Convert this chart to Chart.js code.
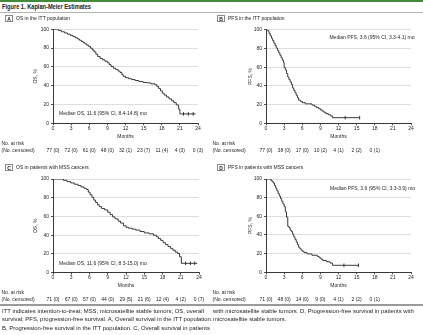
<!DOCTYPE html>
<html><head><meta charset="utf-8">
<script src="https://cdn.jsdelivr.net/npm/chart.js@4.4.1/dist/chart.umd.min.js"></script>
<style>
html,body{margin:0;padding:0;background:#fff;}
#fig{position:relative;width:423px;height:335px;overflow:hidden;font-family:"Liberation Sans",Arial,sans-serif;color:#222;}
.abs{position:absolute;}
canvas{position:absolute;}
.plab{position:absolute;font-size:5px;line-height:7px;white-space:nowrap;display:flex;align-items:center;}
.box{display:inline-block;box-sizing:border-box;width:8px;height:7px;border:0.8px solid #8a8a8a;text-align:center;font-weight:bold;font-size:5px;line-height:6px;margin-right:3px;}
.cap{position:absolute;white-space:nowrap;font-size:5.6px;line-height:8.5px;transform-origin:0 0;}
</style></head>
<body><div id="fig">
<div class="abs" style="left:0;top:0;width:423px;height:1.8px;background:#3f8a3a"></div>
<div class="abs" id="title" style="left:2px;top:2.6px;font-weight:bold;font-size:6.4px;line-height:7px;white-space:nowrap;transform-origin:0 0">Figure 1. Kaplan-Meier Estimates</div>
<div class="abs" style="left:0;top:11.7px;width:423px;height:1.6px;background:#b5b5b5"></div>

<canvas id="cA" width="211" height="140" style="left:0;top:20px"></canvas>
<canvas id="cB" width="212" height="140" style="left:211px;top:20px"></canvas>
<canvas id="cC" width="211" height="140" style="left:0;top:170px"></canvas>
<canvas id="cD" width="212" height="140" style="left:211px;top:170px"></canvas>

<div class="plab" style="left:5px;top:15.2px"><span class="box">A</span>OS in the ITT population</div>
<div class="plab" style="left:217px;top:15.2px"><span class="box">B</span>PFS in the ITT population</div>
<div class="plab" style="left:5px;top:164.2px"><span class="box">C</span>OS in patients with MSS cancers</div>
<div class="plab" style="left:217px;top:164.2px"><span class="box">D</span>PFS in patients with MSS cancers</div>

<div class="abs" style="left:0;top:304.3px;width:423px;height:1.4px;background:#9a9a9a"></div>
<div class="cap capl" style="left:2px;top:306.8px">ITT indicates intention-to-treat; MSS, microsatellite stable tumors; OS, overall</div>
<div class="cap capl" style="left:2px;top:315.3px">survival; PFS, progression-free survival. A, Overall survival in the ITT population.</div>
<div class="cap capl" style="left:2px;top:323.8px">B, Progression-free survival in the ITT population. C, Overall survival in patients</div>
<div class="cap capl" style="left:213px;top:306.8px">with microsatellite stable tumors. D, Progression-free survival in patients with</div>
<div class="cap capl" style="left:213px;top:315.3px">microsatellite stable tumors.</div>
</div>
<script>
// ---- data ----
const monthTicks = [0, 3, 6, 9, 12, 15, 18, 21, 24];
const pctTicks = [0, 20, 40, 60, 80, 100];

// A: OS, ITT population
const osIttTime = [0, 0.9, 1.4, 1.9, 2.4, 2.9, 3.3, 3.7, 4.1, 4.4, 4.7, 5.0, 5.3, 5.6, 5.9, 6.2, 6.5, 6.8, 7.1, 7.4, 7.8, 8.2, 8.6, 9.0, 9.3, 9.6, 10.0, 10.4, 10.8, 11.1, 11.4, 11.6, 12.0, 12.5, 13.0, 13.6, 14.2, 14.9, 15.6, 16.2, 16.9, 17.2, 17.5, 17.8, 18.1, 18.4, 18.8, 19.2, 19.6, 20.0, 20.4, 20.8, 21.0, 23.6];
const osIttSurv = [100, 98.7, 97.4, 96.1, 94.8, 93.5, 92.2, 90.9, 89.6, 88.3, 87.0, 85.7, 84.4, 83.1, 81.8, 80.0, 78.0, 76.0, 73.5, 71.0, 69.0, 67.5, 66.0, 64.5, 62.5, 60.5, 58.5, 57.0, 55.5, 54.0, 52.0, 50.0, 48.5, 47.5, 46.5, 45.5, 44.5, 43.5, 43.0, 42.0, 41.0, 39.0, 37.0, 34.5, 32.0, 30.0, 28.0, 26.0, 24.0, 22.0, 19.5, 15.0, 10.0, 10.0];
const osIttCensTime = [21.6, 22.4, 23.2];
const osIttCensSurv = [10, 10, 10];
const osIttRisk = ['77 (0)', '72 (0)', '61 (0)', '48 (0)', '32 (1)', '23 (7)', '11 (4)', '4 (3)', '0 (3)'];

// B: PFS, ITT population
const pfsIttTime = [0, 0.3, 0.5, 0.7, 0.9, 1.1, 1.3, 1.5, 1.7, 1.9, 2.1, 2.3, 2.5, 2.7, 2.9, 3.0, 3.2, 3.4, 3.6, 3.8, 4.0, 4.2, 4.4, 4.6, 4.8, 5.0, 5.2, 5.4, 5.7, 6.0, 6.5, 7.6, 8.0, 8.3, 8.7, 9.0, 9.3, 9.6, 9.9, 10.3, 10.7, 11.0, 15.5];
const pfsIttSurv = [100, 98.7, 96.1, 93.5, 90.9, 88.3, 85.7, 83.1, 80.5, 77.9, 75.3, 72.7, 70.1, 67.5, 64.9, 59.7, 57.1, 53.2, 49.4, 46.7, 44.2, 41.6, 37.7, 35.1, 32.5, 29.9, 27.3, 24.7, 23.4, 22.1, 20.8, 19.5, 18.2, 16.9, 15.6, 14.3, 13.0, 11.7, 10.4, 9.1, 7.8, 6.0, 6.0];
const pfsIttCensTime = [13.1, 15.5];
const pfsIttCensSurv = [6, 6];
const pfsIttRisk = ['77 (0)', '38 (0)', '17 (0)', '10 (2)', '4 (1)', '2 (2)', '0 (1)'];

// C: OS, MSS
const osMssTime = [0, 1.7, 2.3, 2.9, 3.5, 4.1, 4.6, 5.1, 5.5, 5.8, 6.1, 6.4, 6.7, 7.0, 7.3, 7.6, 8.0, 8.5, 9.0, 9.4, 9.8, 10.2, 10.7, 11.1, 11.6, 12.0, 12.4, 13.0, 13.6, 14.3, 15.0, 15.8, 16.5, 17.0, 17.3, 17.7, 18.1, 18.5, 18.9, 19.3, 19.7, 20.1, 20.5, 20.8, 21.1, 23.7];
const osMssSurv = [100, 98.6, 97.2, 95.8, 94.4, 93.0, 91.5, 90.1, 88.7, 86.0, 83.2, 80.5, 77.5, 75.0, 72.5, 70.5, 68.5, 67.0, 64.5, 62.0, 59.5, 57.5, 55.0, 53.0, 50.0, 48.5, 47.5, 46.5, 45.5, 44.0, 42.5, 41.5, 40.0, 38.5, 36.5, 34.5, 32.0, 30.0, 28.0, 26.0, 24.0, 22.0, 20.5, 17.0, 10.0, 10.0];
const osMssCensTime = [21.8, 22.6, 23.3];
const osMssCensSurv = [10, 10, 10];
const osMssRisk = ['71 (0)', '67 (0)', '57 (0)', '44 (0)', '29 (5)', '21 (6)', '12 (4)', '4 (2)', '0 (7)'];

// D: PFS, MSS
const pfsMssTime = [0, 0.8, 1.0, 1.2, 1.4, 1.6, 1.8, 2.0, 2.2, 2.4, 2.6, 2.8, 3.0, 3.2, 3.4, 3.6, 3.8, 4.0, 4.2, 4.4, 4.6, 4.8, 5.0, 5.2, 5.4, 5.6, 5.8, 6.0, 6.3, 6.8, 7.6, 8.5, 8.8, 9.1, 9.4, 10.0, 10.6, 11.0, 15.3];
const pfsMssSurv = [100, 98.6, 97.2, 95.8, 93.0, 90.1, 87.3, 84.5, 81.7, 78.9, 76.1, 73.2, 70.4, 64.8, 59.2, 49.3, 47.9, 45.1, 43.7, 40.8, 38.0, 35.2, 32.4, 29.6, 26.8, 25.4, 23.9, 22.5, 21.1, 19.7, 18.3, 16.9, 15.5, 14.1, 12.7, 11.3, 9.9, 7.5, 7.5];
const pfsMssCensTime = [12.9, 15.3];
const pfsMssCensSurv = [7.5, 7.5];
const pfsMssRisk = ['71 (0)', '48 (0)', '14 (0)', '9 (0)', '4 (1)', '2 (2)', '0 (1)'];

// ---- drawing ----
Chart.defaults.font.family = '"Liberation Sans", Arial, sans-serif';
const INK = '#262626';

const kmExtras = {
  id: 'kmExtras',
  afterDraw(chart, args, o) {
    const {ctx, chartArea} = chart;
    const x = chart.scales.x, y = chart.scales.y;
    ctx.save();
    ctx.font = '5px "Liberation Sans", Arial, sans-serif';
    ctx.fillStyle = INK;
    ctx.textBaseline = 'middle';
    ctx.textAlign = 'left';
    ctx.fillText(o.median, x.getPixelForValue(o.medianAt[0]), y.getPixelForValue(o.medianAt[1]));
    const r1 = chartArea.bottom + 20.4, r2 = chartArea.bottom + 26.9;
    ctx.fillText('No. at risk', 1.5, r1);
    ctx.fillText('(No. censored)', 1.5, r2);
    ctx.textAlign = 'center';
    o.risk.forEach((t, i) => ctx.fillText(t, x.getPixelForValue(monthTicks[i]), r2));
    ctx.restore();
  }
};

function makeKM(id, o) {
  const canvas = document.getElementById(id);
  const W = canvas.width, H = canvas.height;
  const pTop = o.plotTop - o.canvasTop;
  const pBottom = o.plotBottom - o.canvasTop;
  const xH = 16.3;
  new Chart(canvas, {
    type: 'line',
    data: {
      datasets: [
        { data: o.time.map((t, i) => ({x: t, y: o.surv[i]})), stepped: true, borderColor: INK, borderWidth: 0.9, pointRadius: 0, fill: false },
        { data: o.censTime.map((t, i) => ({x: t, y: o.censSurv[i]})), showLine: false, pointStyle: 'line', pointRotation: 90, pointRadius: 1.8, borderColor: INK, borderWidth: 0.9 }
      ]
    },
    options: {
      responsive: false, animation: false, events: [],
      layout: { padding: { left: 0, right: W - o.plotRight, top: pTop, bottom: H - pBottom - xH } },
      plugins: { legend: {display: false}, tooltip: {enabled: false},
        kmExtras: { median: o.median, medianAt: o.medianAt, risk: o.risk } },
      scales: {
        x: {
          type: 'linear', min: 0, max: 24,
          afterBuildTicks: s => { s.ticks = monthTicks.map(v => ({value: v})); },
          afterFit: s => { s.height = xH; },
          ticks: { font: {size: 5}, color: INK, padding: 0, maxRotation: 0, autoSkip: false },
          grid: { drawOnChartArea: false, tickLength: 2, color: INK, lineWidth: 0.8 },
          border: { color: INK, width: 0.9 },
          title: { display: true, text: 'Months', font: {size: 5}, color: INK, padding: 0 }
        },
        y: {
          min: 0, max: 100,
          afterBuildTicks: s => { s.ticks = pctTicks.map(v => ({value: v})); },
          afterFit: s => { s.width = o.plotLeft - o.canvasLeft; },
          ticks: { font: {size: 5}, color: INK, padding: 2 },
          grid: { color: '#d6d6d6', tickColor: INK, tickLength: 2, lineWidth: 0.8 },
          border: { color: INK, width: 0.9 },
          title: { display: true, text: o.yTitle, font: {size: 5}, color: INK, padding: {top: o.yTitleX - o.canvasLeft - 3, bottom: 0} }
        }
      }
    },
    plugins: [kmExtras]
  });
}

makeKM('cA', { canvasLeft: 0, canvasTop: 20, plotLeft: 53, plotRight: 198, plotTop: 29.3, plotBottom: 123.3, yTitleX: 36,
  time: osIttTime, surv: osIttSurv, censTime: osIttCensTime, censSurv: osIttCensSurv, risk: osIttRisk,
  yTitle: 'OS, %', median: 'Median OS, 11.6 (95% CI, 8.4-14.8) mo', medianAt: [1.0, 9.9] });
makeKM('cB', { canvasLeft: 211, canvasTop: 20, plotLeft: 266, plotRight: 200, plotTop: 29.7, plotBottom: 123.3, yTitleX: 250.3,
  time: pfsIttTime, surv: pfsIttSurv, censTime: pfsIttCensTime, censSurv: pfsIttCensSurv, risk: pfsIttRisk,
  yTitle: 'PFS, %', median: 'Median PFS, 3.6 (95% CI, 3.3-4.1) mo', medianAt: [10.5, 91] });
makeKM('cC', { canvasLeft: 0, canvasTop: 170, plotLeft: 53, plotRight: 199, plotTop: 179, plotBottom: 272.7, yTitleX: 36,
  time: osMssTime, surv: osMssSurv, censTime: osMssCensTime, censSurv: osMssCensSurv, risk: osMssRisk,
  yTitle: 'OS, %', median: 'Median OS, 11.6 (95% CI, 8.3-15.0) mo', medianAt: [1.0, 9.3] });
makeKM('cD', { canvasLeft: 211, canvasTop: 170, plotLeft: 266, plotRight: 200, plotTop: 179, plotBottom: 272.3, yTitleX: 250.3,
  time: pfsMssTime, surv: pfsMssSurv, censTime: pfsMssCensTime, censSurv: pfsMssCensSurv, risk: pfsMssRisk,
  yTitle: 'PFS, %', median: 'Median PFS, 3.6 (95% CI, 3.3-3.9) mo', medianAt: [10.6, 90] });

// fit caption and title widths to the reference column widths
(function () {
  const lines = document.querySelectorAll('.capl');
  const w = lines[0].getBoundingClientRect().width;
  const k = 202 / w;
  lines.forEach(el => { el.style.transform = 'scaleX(' + k + ')'; });
  const t = document.getElementById('title');
  const tw = t.getBoundingClientRect().width;
  t.style.transform = 'scaleX(' + (89 / tw) + ')';
})();
</script>
</body></html>
